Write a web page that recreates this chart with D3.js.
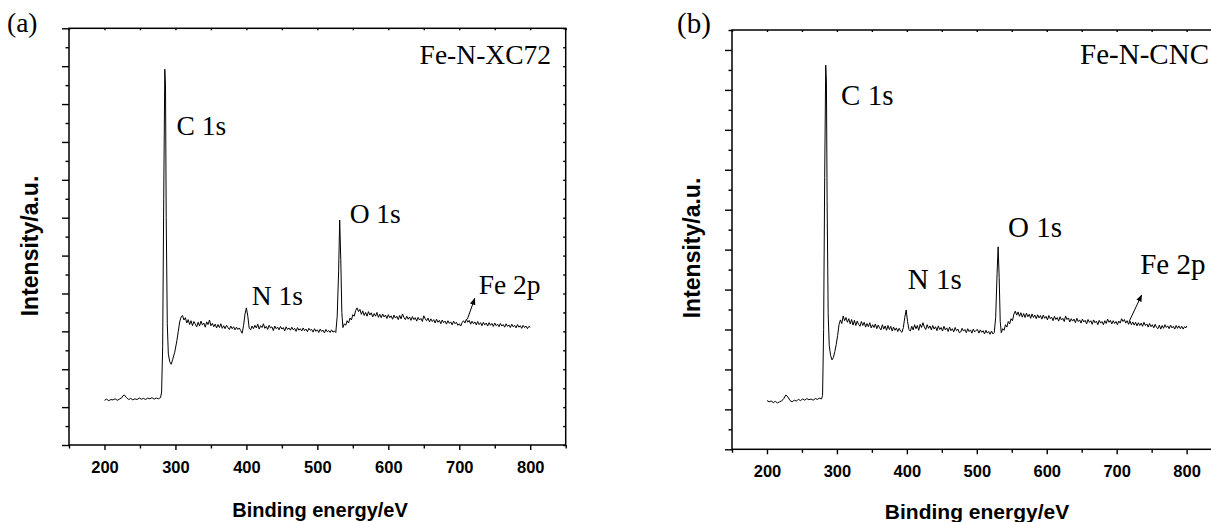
<!DOCTYPE html>
<html>
<head>
<meta charset="utf-8">
<script src="https://cdn.jsdelivr.net/npm/d3@7"></script>
<style>
  body { margin: 0; background: #fff; }
  svg { display: block; }
</style>
</head>
<body>
<div id="chart"></div>
<script>
// XPS survey spectra, [binding energy eV, intensity a.u.]
const spectrumXC72 = [
  [200,1.18],[203,1.21],[206,1.17],[209,1.20],[212,1.19],[215,1.22],[218,1.18],[221,1.21],[224,1.24],[226,1.30],
  [228,1.32],[231,1.25],[234,1.20],[237,1.23],[240,1.19],[243,1.22],[246,1.20],[249,1.24],[252,1.21],[255,1.23],
  [258,1.20],[261,1.24],[264,1.22],[267,1.25],[270,1.21],[273,1.24],[276,1.22],[279,1.25],[280.5,1.4],[282,2.6],
  [283.5,6.5],[285,9.92],[286,9.5],[287,6.0],[288.5,3.2],[290,2.4],[292,2.2],[294,2.13],[296,2.25],[299,2.45],
  [302,2.75],[304,3.0],[306,3.25],[308,3.38],[310,3.42],[312,3.30],[314,3.36],[316,3.22],[318,3.31],[320,3.18],
  [322,3.28],[324,3.15],[326,3.26],[328,3.19],[330,3.12],[332,3.24],[334,3.14],[336,3.27],[338,3.17],[340,3.22],
  [342,3.11],[344,3.25],[346,3.18],[348,3.30],[350,3.15],[352,3.21],[354,3.12],[356,3.19],[358,3.09],[360,3.18],
  [362,3.10],[364,3.20],[366,3.08],[368,3.15],[370,3.07],[372,3.16],[374,3.10],[376,3.05],[378,3.14],[380,3.07],
  [382,3.12],[384,3.04],[386,3.11],[388,3.05],[390,3.09],[392,3.02],[394,2.95],[396,3.15],[398,3.45],[400,3.62],
  [402,3.40],[404,3.08],[406,3.04],[408,3.14],[410,3.07],[412,3.16],[414,3.09],[416,3.19],[418,3.06],[420,3.15],
  [422,3.10],[424,3.20],[426,3.08],[428,3.13],[430,3.05],[432,3.16],[434,3.09],[436,3.12],[438,3.02],[440,3.14],
  [442,3.07],[444,3.11],[446,3.04],[448,3.13],[450,3.06],[452,3.10],[454,3.01],[456,3.12],[458,3.05],[460,3.09],
  [462,3.03],[464,3.11],[466,3.04],[468,3.08],[470,3.00],[472,3.10],[474,3.03],[476,3.07],[478,3.01],[480,3.09],
  [482,3.02],[484,3.06],[486,2.99],[488,3.08],[490,3.03],[492,3.05],[494,2.98],[496,3.07],[498,3.00],[500,3.04],
  [502,2.97],[504,3.06],[506,3.00],[508,3.03],[510,2.96],[512,3.05],[514,2.99],[516,3.02],[518,2.97],[520,3.04],
  [522,2.98],[524,3.01],[526,2.97],[528,3.4],[530,4.6],[531.5,5.94],[533,4.9],[534.5,3.5],[536,3.10],[538,3.20],
  [540,3.16],[542,3.28],[544,3.22],[546,3.35],[548,3.30],[550,3.44],[552,3.40],[554,3.55],[556,3.62],[558,3.52],
  [560,3.58],[562,3.45],[564,3.54],[566,3.42],[568,3.50],[570,3.40],[572,3.52],[574,3.43],[576,3.49],[578,3.38],
  [580,3.47],[582,3.40],[584,3.50],[586,3.37],[588,3.45],[590,3.36],[592,3.46],[594,3.38],[596,3.43],[598,3.34],
  [600,3.44],[602,3.36],[604,3.41],[606,3.32],[608,3.43],[610,3.35],[612,3.40],[614,3.31],[616,3.42],[618,3.33],
  [620,3.46],[622,3.37],[624,3.31],[626,3.40],[628,3.32],[630,3.38],[632,3.29],[634,3.39],[636,3.31],[638,3.36],
  [640,3.27],[642,3.37],[644,3.30],[646,3.34],[648,3.26],[650,3.41],[652,3.33],[654,3.28],[656,3.35],[658,3.25],
  [660,3.33],[662,3.26],[664,3.31],[666,3.22],[668,3.32],[670,3.24],[672,3.29],[674,3.20],[676,3.30],[678,3.23],
  [680,3.27],[682,3.19],[684,3.28],[686,3.21],[688,3.25],[690,3.17],[692,3.27],[694,3.20],[696,3.24],[698,3.16],
  [700,3.20],[702,3.14],[704,3.23],[706,3.28],[708,3.22],[710,3.32],[712,3.24],[714,3.29],[716,3.19],[718,3.27],
  [720,3.20],[722,3.25],[724,3.17],[726,3.26],[728,3.18],[730,3.23],[732,3.15],[734,3.24],[736,3.17],[738,3.22],
  [740,3.14],[742,3.23],[744,3.16],[746,3.21],[748,3.13],[750,3.22],[752,3.15],[754,3.19],[756,3.12],[758,3.21],
  [760,3.14],[762,3.18],[764,3.11],[766,3.20],[768,3.13],[770,3.17],[772,3.10],[774,3.19],[776,3.12],[778,3.16],
  [780,3.09],[782,3.18],[784,3.11],[786,3.15],[788,3.08],[790,3.16],[792,3.10],[794,3.14],[796,3.07],[798,3.13],
  [800,3.11]
];

const spectrumCNC = [
  [200,1.22],[203,1.19],[206,1.21],[209,1.17],[212,1.20],[215,1.16],[218,1.19],[221,1.21],[224,1.27],[227,1.36],
  [230,1.31],[233,1.22],[236,1.19],[239,1.23],[242,1.21],[245,1.25],[248,1.22],[251,1.26],[254,1.23],[257,1.27],
  [260,1.24],[263,1.26],[266,1.23],[269,1.27],[272,1.25],[275,1.28],[278,1.26],[279.5,1.35],[281,3.0],[282.5,6.8],
  [284,9.62],[285,9.2],[286,6.2],[287.5,3.4],[289,2.6],[291,2.35],[293,2.24],[295,2.30],[297,2.45],[299,2.62],
  [301,2.85],[303,3.12],[305,3.24],[307,3.15],[309,3.34],[311,3.22],[313,3.30],[315,3.18],[317,3.27],[319,3.14],
  [321,3.25],[323,3.11],[325,3.23],[327,3.10],[329,3.21],[331,3.13],[333,3.08],[335,3.20],[337,3.10],[339,3.18],
  [341,3.06],[343,3.15],[345,3.07],[347,3.17],[349,3.04],[351,3.12],[353,3.05],[355,3.14],[357,3.02],[359,3.11],
  [361,3.04],[363,2.99],[365,3.12],[367,3.01],[369,3.09],[371,2.98],[373,3.10],[375,3.00],[377,3.08],[379,2.96],
  [381,3.06],[383,2.98],[385,3.04],[387,2.95],[389,3.03],[391,2.96],[393,2.93],[395,3.05],[397,3.30],[399,3.49],
  [401,3.20],[403,3.00],[405,2.96],[407,3.08],[409,2.99],[411,3.12],[413,3.02],[415,3.10],[417,2.98],[419,3.13],
  [421,3.05],[423,3.17],[425,3.06],[427,3.00],[429,3.12],[431,3.03],[433,3.09],[435,2.99],[437,3.10],[439,3.01],
  [441,3.07],[443,2.97],[445,3.09],[447,3.00],[449,3.05],[451,2.96],[453,3.08],[455,2.99],[457,3.04],[459,2.95],
  [461,3.06],[463,2.97],[465,3.02],[467,2.94],[469,3.05],[471,2.97],[473,3.01],[475,2.92],[477,2.94],[479,3.03],
  [481,2.96],[483,3.00],[485,2.92],[487,3.02],[489,2.95],[491,2.99],[493,2.91],[495,3.01],[497,2.94],[499,2.98],
  [501,3.00],[503,2.91],[505,2.99],[507,2.93],[509,2.97],[511,2.89],[513,2.98],[515,2.91],[517,2.95],[519,2.88],
  [521,2.96],[523,2.89],[525,2.93],[527,3.3],[529,4.4],[530.5,5.07],[532,4.3],[533.5,3.2],[535,2.92],[537,3.02],
  [539,2.98],[541,3.12],[543,3.06],[545,3.20],[547,3.14],[549,3.27],[551,3.22],[553,3.38],[555,3.46],[557,3.36],
  [559,3.44],[561,3.33],[563,3.42],[565,3.31],[567,3.40],[569,3.30],[571,3.41],[573,3.32],[575,3.38],[577,3.28],
  [579,3.39],[581,3.30],[583,3.36],[585,3.27],[587,3.37],[589,3.29],[591,3.35],[593,3.26],[595,3.36],[597,3.28],
  [599,3.33],[601,3.24],[603,3.35],[605,3.27],[607,3.31],[609,3.22],[611,3.33],[613,3.25],[615,3.30],[617,3.21],
  [619,3.32],[621,3.24],[623,3.28],[625,3.20],[627,3.34],[629,3.25],[631,3.29],[633,3.19],[635,3.27],[637,3.21],
  [639,3.26],[641,3.17],[643,3.28],[645,3.20],[647,3.24],[649,3.16],[651,3.26],[653,3.19],[655,3.23],[657,3.14],
  [659,3.25],[661,3.18],[663,3.22],[665,3.13],[667,3.24],[669,3.17],[671,3.21],[673,3.12],[675,3.23],[677,3.16],
  [679,3.20],[681,3.12],[683,3.22],[685,3.15],[687,3.26],[689,3.18],[691,3.23],[693,3.14],[695,3.22],[697,3.15],
  [699,3.20],[701,3.12],[703,3.21],[705,3.16],[707,3.27],[709,3.20],[711,3.25],[713,3.16],[715,3.22],[717,3.13],
  [719,3.21],[721,3.12],[723,3.19],[725,3.11],[727,3.18],[729,3.09],[731,3.17],[733,3.10],[735,3.16],[737,3.08],
  [739,3.18],[741,3.10],[743,3.14],[745,3.06],[747,3.15],[749,3.07],[751,3.12],[753,3.04],[755,3.13],[757,3.05],
  [759,3.02],[761,3.11],[763,3.01],[765,3.10],[767,3.03],[769,3.12],[771,3.05],[773,3.09],[775,3.02],[777,3.11],
  [779,3.04],[781,3.08],[783,3.01],[785,3.10],[787,3.03],[789,3.09],[791,3.02],[793,3.08],[795,3.01],[797,3.07],
  [799,3.04],[800,3.09]
];

const energyTicks = [200, 300, 400, 500, 600, 700, 800];
const energyMinorTicks = [150, 250, 350, 450, 550, 650, 750, 850];
const energyRange = [150, 850];

// peak labels: [text, energy, intensity] (text start / baseline)
const peaksXC72 = [['C 1s', 301.4, 8.18], ['N 1s', 407.4, 3.69], ['O 1s', 545.5, 5.85], ['Fe 2p', 727.4, 3.98]];
const peaksCNC = [['C 1s', 306.0, 8.62], ['N 1s', 401.3, 4.01], ['O 1s', 544.6, 5.31], ['Fe 2p', 733.6, 4.39]];
// Fe 2p arrows: [from energy, from intensity, to energy, to intensity]
const arrowXC72 = [711.4, 3.32, 721.8, 3.87];
const arrowCNC = [717.8, 3.20, 735.6, 3.86];

const width = 1211, height = 522;
const serif = '"Liberation Serif", "Times New Roman", serif';
const sans = '"Liberation Sans", Arial, sans-serif';

const svg = d3.select('#chart').append('svg')
  .attr('width', width)
  .attr('height', height);

svg.append('defs').append('marker')
  .attr('id', 'arrow')
  .attr('viewBox', '0 0 10 10')
  .attr('refX', 9).attr('refY', 5)
  .attr('markerWidth', 7).attr('markerHeight', 7)
  .attr('markerUnits', 'userSpaceOnUse')
  .attr('orient', 'auto')
  .append('path')
  .attr('d', 'M0,1 L10,5 L0,9 Z')
  .attr('fill', '#000');

const panels = [
  { tag: '(a)', name: 'Fe-N-XC72', nameAt: [829.3, 10.07], nameAnchor: 'end',
    data: spectrumXC72, peaks: peaksXC72, arrow: arrowXC72,
    left: 69, right: 565.7, top: 28.3, bottom: 445, yMax: 11, font: 27.5,
    tagAt: [7, 32], yLabelAt: [38, 246], xLabelAt: [320, 517], xLabelFont: 20 },
  { tag: '(b)', name: 'Fe-N-CNC', nameAt: [647.7, 9.64], nameAnchor: 'start',
    data: spectrumCNC, peaks: peaksCNC, arrow: arrowCNC,
    left: 732, right: 1221.6, top: 30, bottom: 449.3, yMax: 10.5, font: 29,
    tagAt: [677, 33], yLabelAt: [700, 248], xLabelAt: [977, 519], xLabelFont: 21 }
];

panels.forEach(p => {
  const x = d3.scaleLinear().domain(energyRange).range([p.left, p.right]);
  const y = d3.scaleLinear().domain([0, p.yMax]).range([p.bottom, p.top]);
  const g = svg.append('g');

  const yMajor = d3.range(0, Math.floor(p.yMax) + 1);
  const yMinor = d3.range(0.5, p.yMax + 0.01, 1);

  const styleAxis = sel => {
    sel.select('.domain').remove();
    sel.selectAll('line').attr('stroke', '#000').attr('stroke-width', 1.4);
  };

  // bottom axis
  g.append('g')
    .attr('transform', `translate(0,${p.bottom})`)
    .call(d3.axisBottom(x).tickValues(energyTicks).tickSize(5).tickPadding(11).tickFormat(d3.format('d')))
    .call(styleAxis)
    .call(a => a.selectAll('text')
      .attr('font-family', sans).attr('font-weight', 'bold').attr('font-size', 16.5).attr('fill', '#000'));
  g.append('g')
    .attr('transform', `translate(0,${p.bottom})`)
    .call(d3.axisBottom(x).tickValues(energyMinorTicks).tickSize(3.5).tickFormat(''))
    .call(styleAxis);

  // top axis, small inward ticks
  g.append('g')
    .attr('transform', `translate(0,${p.top})`)
    .call(d3.axisBottom(x).tickValues(energyTicks.concat(energyMinorTicks)).tickSize(2).tickFormat(''))
    .call(styleAxis);

  // left axis, major and minor, outward
  g.append('g')
    .attr('transform', `translate(${p.left},0)`)
    .call(d3.axisLeft(y).tickValues(yMajor).tickSize(7).tickFormat(''))
    .call(styleAxis);
  g.append('g')
    .attr('transform', `translate(${p.left},0)`)
    .call(d3.axisLeft(y).tickValues(yMinor).tickSize(3.5).tickFormat(''))
    .call(styleAxis);

  // right axis, inward ticks
  g.append('g')
    .attr('transform', `translate(${p.right},0)`)
    .call(d3.axisLeft(y).tickValues(yMajor.concat(yMinor)).tickSize(2.5).tickFormat(''))
    .call(styleAxis);

  // frame
  g.append('rect')
    .attr('x', p.left).attr('y', p.top)
    .attr('width', p.right - p.left).attr('height', p.bottom - p.top)
    .attr('fill', 'none').attr('stroke', '#000').attr('stroke-width', 1.5);

  // spectrum
  g.append('path')
    .datum(p.data)
    .attr('d', d3.line().x(d => x(d[0])).y(d => y(d[1])))
    .attr('fill', 'none')
    .attr('stroke', '#000')
    .attr('stroke-width', 1)
    .attr('stroke-linejoin', 'round');

  // peak labels
  g.selectAll('text.peak')
    .data(p.peaks)
    .join('text')
    .attr('class', 'peak')
    .attr('x', d => x(d[1]))
    .attr('y', d => y(d[2]))
    .attr('font-family', serif)
    .attr('font-size', p.font)
    .text(d => d[0]);

  g.append('line')
    .attr('x1', x(p.arrow[0])).attr('y1', y(p.arrow[1]))
    .attr('x2', x(p.arrow[2])).attr('y2', y(p.arrow[3]))
    .attr('stroke', '#000').attr('stroke-width', 1)
    .attr('marker-end', 'url(#arrow)');

  // sample name
  g.append('text')
    .attr('x', x(p.nameAt[0])).attr('y', y(p.nameAt[1]))
    .attr('text-anchor', p.nameAnchor)
    .attr('font-family', serif).attr('font-size', p.font)
    .text(p.name);

  // panel tag
  g.append('text')
    .attr('x', p.tagAt[0]).attr('y', p.tagAt[1])
    .attr('font-family', serif).attr('font-size', p.font)
    .text(p.tag);

  // axis titles
  g.append('text')
    .attr('transform', `translate(${p.yLabelAt[0]},${p.yLabelAt[1]}) rotate(-90)`)
    .attr('text-anchor', 'middle')
    .attr('font-family', sans).attr('font-weight', 'bold').attr('font-size', 23)
    .text('Intensity/a.u.');

  g.append('text')
    .attr('x', p.xLabelAt[0]).attr('y', p.xLabelAt[1])
    .attr('text-anchor', 'middle')
    .attr('font-family', sans).attr('font-weight', 'bold').attr('font-size', p.xLabelFont)
    .text('Binding energy/eV');
});
</script>
</body>
</html>
